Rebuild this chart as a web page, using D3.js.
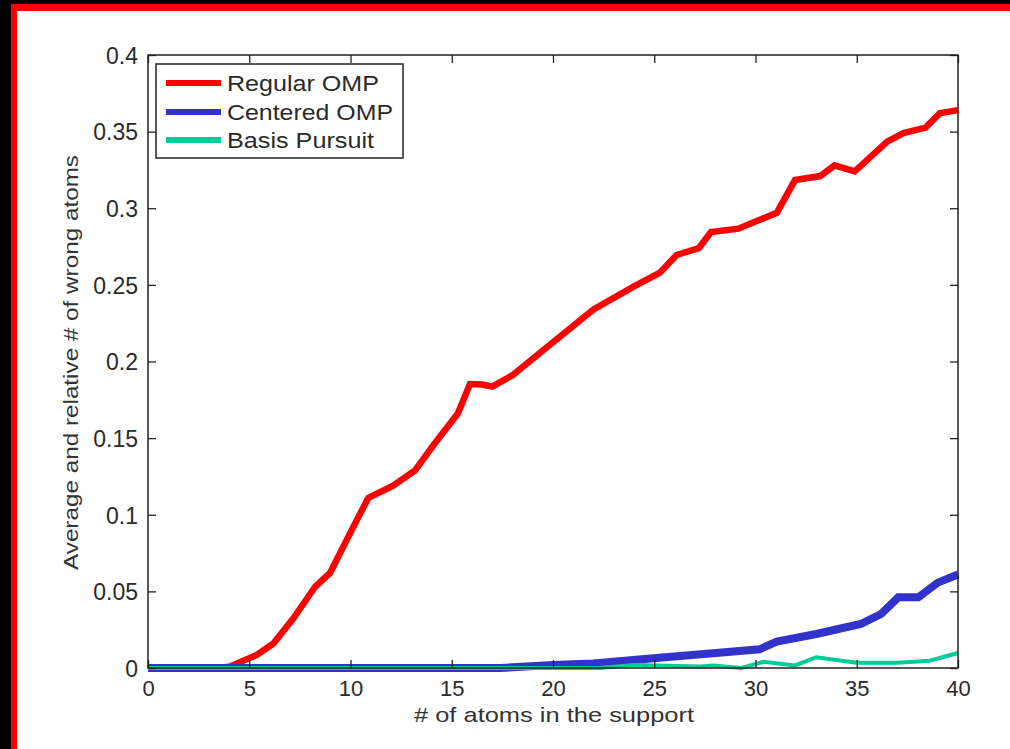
<!DOCTYPE html>
<html>
<head>
<meta charset="utf-8">
<script src="https://cdn.jsdelivr.net/npm/d3@7"></script>
<style>
  html, body { margin: 0; padding: 0; background: #000; }
  svg { display: block; }
  text { font-family: "Liberation Sans", Arial, sans-serif; }
</style>
</head>
<body>
<svg id="chart" width="1010" height="749"></svg>
<script>
// ---- data ----
const redX   = [0, 1, 2, 3, 3.6, 4.05, 5.37, 6.19, 7.18, 8.25, 8.99, 9.98, 10.88, 12.1, 13.19, 14.1, 15.3, 15.9, 16.5, 17.0, 18, 20, 22, 24, 25.28, 26.1, 27.2, 27.8, 29.15, 31.05, 31.95, 33.2, 33.9, 34.9, 36.5, 37.3, 38.4, 39.1, 40];
const redY   = [0, 0, 0, 0, 0, 0.001, 0.0085, 0.016, 0.0324, 0.053, 0.062, 0.088, 0.111, 0.119, 0.129, 0.1455, 0.166, 0.1853, 0.185, 0.1836, 0.191, 0.2125, 0.234, 0.249, 0.258, 0.2695, 0.274, 0.2845, 0.2867, 0.297, 0.3184, 0.321, 0.328, 0.324, 0.3435, 0.349, 0.3526, 0.362, 0.364];

const blueX  = [0, 17.4, 20, 22, 24.95, 27.9, 30.2, 31.05, 33.0, 35.2, 36.2, 37.05, 38.04, 39.0, 40];
const blueY  = [0, 0, 0.002, 0.003, 0.0063, 0.0096, 0.0122, 0.0172, 0.0222, 0.0287, 0.0352, 0.0461, 0.0461, 0.0557, 0.061];

const greenX = [0, 22.3, 24, 27.3, 27.9, 29.3, 30.4, 31.95, 33.0, 35.0, 37.0, 38.6, 40];
const greenY = [0, 0, 0.002, 0.001, 0.0017, 0, 0.0041, 0.0017, 0.007, 0.0035, 0.0035, 0.0048, 0.0098];

const seriesNames = ["Regular OMP", "Centered OMP", "Basis Pursuit"];

const xTickValues = [0, 5, 10, 15, 20, 25, 30, 35, 40];
const xTickLabels = ["0", "5", "10", "15", "20", "25", "30", "35", "40"];
const yTickValues = [0, 0.05, 0.1, 0.15, 0.2, 0.25, 0.3, 0.35, 0.4];
const yTickLabels = ["0", "0.05", "0.1", "0.15", "0.2", "0.25", "0.3", "0.35", "0.4"];

const xTitle = "# of atoms in the support";
const yTitle = "Average and relative # of wrong atoms";

// ---- drawing ----
const svg = d3.select("#chart");
svg.append("rect").attr("x", 0).attr("y", 0).attr("width", 1010).attr("height", 749).attr("fill", "#000");
svg.append("rect").attr("x", 11).attr("y", 4).attr("width", 999).attr("height", 745).attr("fill", "#ff0000");
svg.append("rect").attr("x", 17).attr("y", 11).attr("width", 993).attr("height", 738).attr("fill", "#ffffff");

const L = 148, R = 958, T = 55, B = 668;
const x = d3.scaleLinear().domain([0, 40]).range([L, R]);
const y = d3.scaleLinear().domain([0, 0.4]).range([B, T]);

const series = [
  { name: seriesNames[0], xs: redX,   ys: redY,   color: "#ff0000", width: 6.5 },
  { name: seriesNames[1], xs: blueX,  ys: blueY,  color: "#3333cc", width: 8 },
  { name: seriesNames[2], xs: greenX, ys: greenY, color: "#00cc99", width: 4 }
];

const line = d3.line().x(d => x(d[0])).y(d => y(d[1]));
const plot = svg.append("g");
plot.append("defs").append("clipPath").attr("id", "clip")
  .append("rect").attr("x", L - 4).attr("y", T).attr("width", R - L + 8).attr("height", B - T + 6);

series.forEach(s => {
  const pts = s.xs.map((v, i) => [v, s.ys[i]]);
  plot.append("path")
    .attr("d", line(pts))
    .attr("fill", "none")
    .attr("stroke", s.color)
    .attr("stroke-width", s.width)
    .attr("stroke-linejoin", "miter")
    .attr("clip-path", "url(#clip)");
});

// axes (MATLAB-style box, inward ticks)
const fmtX = d => xTickLabels[xTickValues.indexOf(d)];
const fmtY = d => yTickLabels[yTickValues.findIndex(v => Math.abs(v - d) < 1e-9)];

const gx = svg.append("g").attr("transform", `translate(0,${B})`)
  .call(d3.axisBottom(x).tickValues(xTickValues).tickFormat(fmtX).tickSizeInner(-8).tickSizeOuter(0).tickPadding(12));
const gy = svg.append("g").attr("transform", `translate(${L},0)`)
  .call(d3.axisLeft(y).tickValues(yTickValues).tickFormat(fmtY).tickSizeInner(-8).tickSizeOuter(0).tickPadding(10));
const gt = svg.append("g").attr("transform", `translate(0,${T})`)
  .call(d3.axisTop(x).tickValues(xTickValues).tickFormat("").tickSizeInner(-8).tickSizeOuter(0));
const gr = svg.append("g").attr("transform", `translate(${R},0)`)
  .call(d3.axisRight(y).tickValues(yTickValues).tickFormat("").tickSizeInner(-8).tickSizeOuter(0));

[gx, gy, gt, gr].forEach(g => {
  g.select(".domain").remove();
  g.selectAll(".tick line").attr("stroke", "#222").attr("stroke-width", 1.3);
  g.selectAll(".tick text").attr("fill", "#2a2a2a").style("font-size", "22px")
    .style("font-family", "'Liberation Sans', Arial, sans-serif");
});
gy.selectAll(".tick text").style("font-size", "23px").attr("dy", "0.36em");

svg.append("rect").attr("x", L).attr("y", T).attr("width", R - L).attr("height", B - T)
  .attr("fill", "none").attr("stroke", "#222").attr("stroke-width", 1.5);

// axis titles
svg.append("text").attr("x", (L + R) / 2 + 1).attr("y", 722).attr("text-anchor", "middle")
  .attr("fill", "#333").style("font-size", "21px")
  .attr("textLength", 280).attr("lengthAdjust", "spacingAndGlyphs").text(xTitle);
svg.append("text").attr("transform", `translate(78,${(155 + 570) / 2}) rotate(-90)`).attr("text-anchor", "middle")
  .attr("fill", "#333").style("font-size", "21px")
  .attr("textLength", 415).attr("lengthAdjust", "spacingAndGlyphs").text(yTitle);

// legend
const lg = svg.append("g");
lg.append("rect").attr("x", 156).attr("y", 64).attr("width", 247).attr("height", 94)
  .attr("fill", "#fff").attr("stroke", "#222").attr("stroke-width", 1.5);
const legendRows = [83, 112, 140];
const legendWidths = [152, 166, 147];
series.forEach((s, i) => {
  lg.append("line").attr("x1", 166).attr("x2", 221).attr("y1", legendRows[i]).attr("y2", legendRows[i])
    .attr("stroke", s.color).attr("stroke-width", 6);
  lg.append("text").attr("x", 227).attr("y", legendRows[i] + 8).attr("fill", "#2a2a2a")
    .style("font-size", "22px").attr("textLength", legendWidths[i]).attr("lengthAdjust", "spacingAndGlyphs")
    .text(s.name);
});
</script>
</body>
</html>
